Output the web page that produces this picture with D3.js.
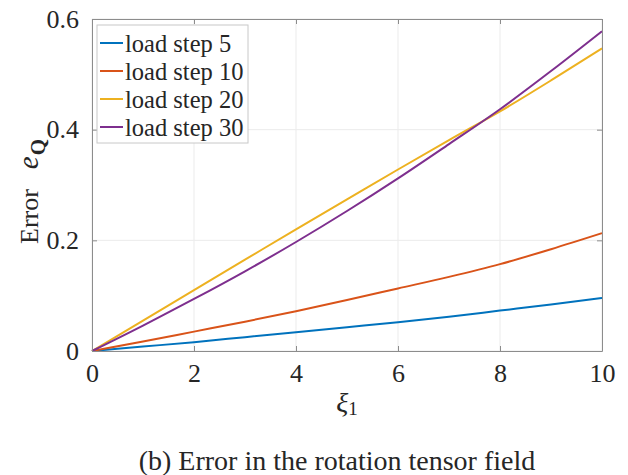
<!DOCTYPE html>
<html>
<head>
<meta charset="utf-8">
<script src="https://cdn.jsdelivr.net/npm/d3@7"></script>
<style>
  body { margin: 0; background: #fff; }
  text { font-family: "Liberation Serif", "Times New Roman", serif; fill: #262626; }
</style>
</head>
<body>
<div id="chart"></div>
<script>
// Data
const xValues = [0, 1, 2, 3, 4, 5, 6, 7, 8, 9, 10]
const step5 = [0, 0.008, 0.016, 0.025, 0.034, 0.043, 0.052, 0.062, 0.073, 0.084, 0.096]
const step10 = [0, 0.017, 0.035, 0.053, 0.072, 0.092, 0.113, 0.134, 0.157, 0.184, 0.213]
const step20 = [0, 0.055, 0.110, 0.165, 0.220, 0.274, 0.328, 0.381, 0.433, 0.489, 0.547]
const step30 = [0, 0.046, 0.094, 0.144, 0.197, 0.253, 0.312, 0.374, 0.437, 0.506, 0.578]
const seriesNames = ['load step 5', 'load step 10', 'load step 20', 'load step 30']
const xTicks = [0, 2, 4, 6, 8, 10]
const yTicks = [0, 0.2, 0.4, 0.6]

const series = [step5, step10, step20, step30]
const colors = ['#0072BD', '#D95319', '#EDB120', '#7E2F8E']

// Dimensions
const dimensions = {
  width: 628,
  height: 475,
  left: 92,
  top: 19,
  right: 602,
  bottom: 351
}

const svg = d3.select('#chart')
  .append('svg')
  .attr('width', dimensions.width)
  .attr('height', dimensions.height)

// Scales
const xScale = d3.scaleLinear()
  .domain([0, 10])
  .range([dimensions.left, dimensions.right])

const yScale = d3.scaleLinear()
  .domain([0, 0.6])
  .range([dimensions.bottom, dimensions.top])

// Grid
const grid = svg.append('g')
grid.selectAll('.gx')
  .data(xTicks)
  .join('line')
  .attr('x1', d => xScale(d)).attr('x2', d => xScale(d))
  .attr('y1', dimensions.top).attr('y2', dimensions.bottom)
  .attr('stroke', '#ebebeb')
grid.selectAll('.gy')
  .data(yTicks)
  .join('line')
  .attr('y1', d => yScale(d)).attr('y2', d => yScale(d))
  .attr('x1', dimensions.left).attr('x2', dimensions.right)
  .attr('stroke', '#ebebeb')

// Lines
const line = d3.line()
  .x((d, i) => xScale(xValues[i]))
  .y(d => yScale(d))
  .curve(d3.curveMonotoneX)

svg.append('g')
  .selectAll('path')
  .data(series)
  .join('path')
  .attr('d', line)
  .attr('fill', 'none')
  .attr('stroke', (d, i) => colors[i])
  .attr('stroke-width', 2)

// Axes (MATLAB style box, ticks inward)
const tickLen = 5
const axisColor = '#8c8c8c'

const xAxisBottom = d3.axisBottom(xScale).tickValues(xTicks).tickSizeInner(-tickLen).tickSizeOuter(0).tickPadding(13)
const xAxisTop = d3.axisTop(xScale).tickValues(xTicks).tickSizeInner(-tickLen).tickSizeOuter(0).tickFormat('')
const yAxisLeft = d3.axisLeft(yScale).tickValues(yTicks).tickSizeInner(-tickLen).tickSizeOuter(0).tickPadding(13)
  .tickFormat(d => d === 0 ? '0' : d3.format('.1f')(d))
const yAxisRight = d3.axisRight(yScale).tickValues(yTicks).tickSizeInner(-tickLen).tickSizeOuter(0).tickFormat('')

const axes = [
  svg.append('g').attr('transform', `translate(0, ${dimensions.bottom})`).call(xAxisBottom),
  svg.append('g').attr('transform', `translate(0, ${dimensions.top})`).call(xAxisTop),
  svg.append('g').attr('transform', `translate(${dimensions.left}, 0)`).call(yAxisLeft),
  svg.append('g').attr('transform', `translate(${dimensions.right}, 0)`).call(yAxisRight)
]
axes.forEach(a => {
  a.select('.domain').attr('stroke', axisColor)
  a.selectAll('.tick line').attr('stroke', axisColor)
  a.selectAll('.tick text')
    .style('font-family', '"Liberation Serif", "Times New Roman", serif')
    .style('font-size', '26px')
    .attr('fill', '#262626')
})

// Legend
const legend = svg.append('g')
legend.append('rect')
  .attr('x', 97).attr('y', 25)
  .attr('width', 151).attr('height', 118)
  .attr('fill', '#fff')
  .attr('stroke', '#c8c8c8')

const rows = legend.selectAll('.row')
  .data(seriesNames)
  .join('g')
  .attr('transform', (d, i) => `translate(100, ${43 + i * 28})`)

rows.append('line')
  .attr('x1', 0).attr('x2', 23)
  .attr('stroke', (d, i) => colors[i])
  .attr('stroke-width', 2)

rows.append('text')
  .attr('x', 25)
  .attr('dy', '0.35em')
  .style('font-size', '24.5px')
  .text(d => d)

// Axis labels
const yLabel = svg.append('text')
  .attr('transform', `translate(38, 244) rotate(-90)`)
  .style('font-size', '26px')
yLabel.append('tspan').text('Error')
yLabel.append('tspan').attr('dx', 20).style('font-style', 'italic').style('font-size', '29px').text('e')
yLabel.append('tspan').attr('dx', 1).style('font-weight', 'bold').style('font-size', '21px')
  .attr('dy', 7).text('Q')

const xLabel = svg.append('text')
  .attr('x', (dimensions.left + dimensions.right) / 2)
  .attr('y', 412)
  .attr('text-anchor', 'middle')
  .style('font-size', '28px')
xLabel.append('tspan').style('font-style', 'italic').text('ξ')
xLabel.append('tspan').style('font-size', '19px').attr('dy', 3).text('1')

// Caption
svg.append('text')
  .attr('x', 337)
  .attr('y', 470)
  .attr('text-anchor', 'middle')
  .style('font-size', '28px')
  .text('(b) Error in the rotation tensor field')
</script>
</body>
</html>
